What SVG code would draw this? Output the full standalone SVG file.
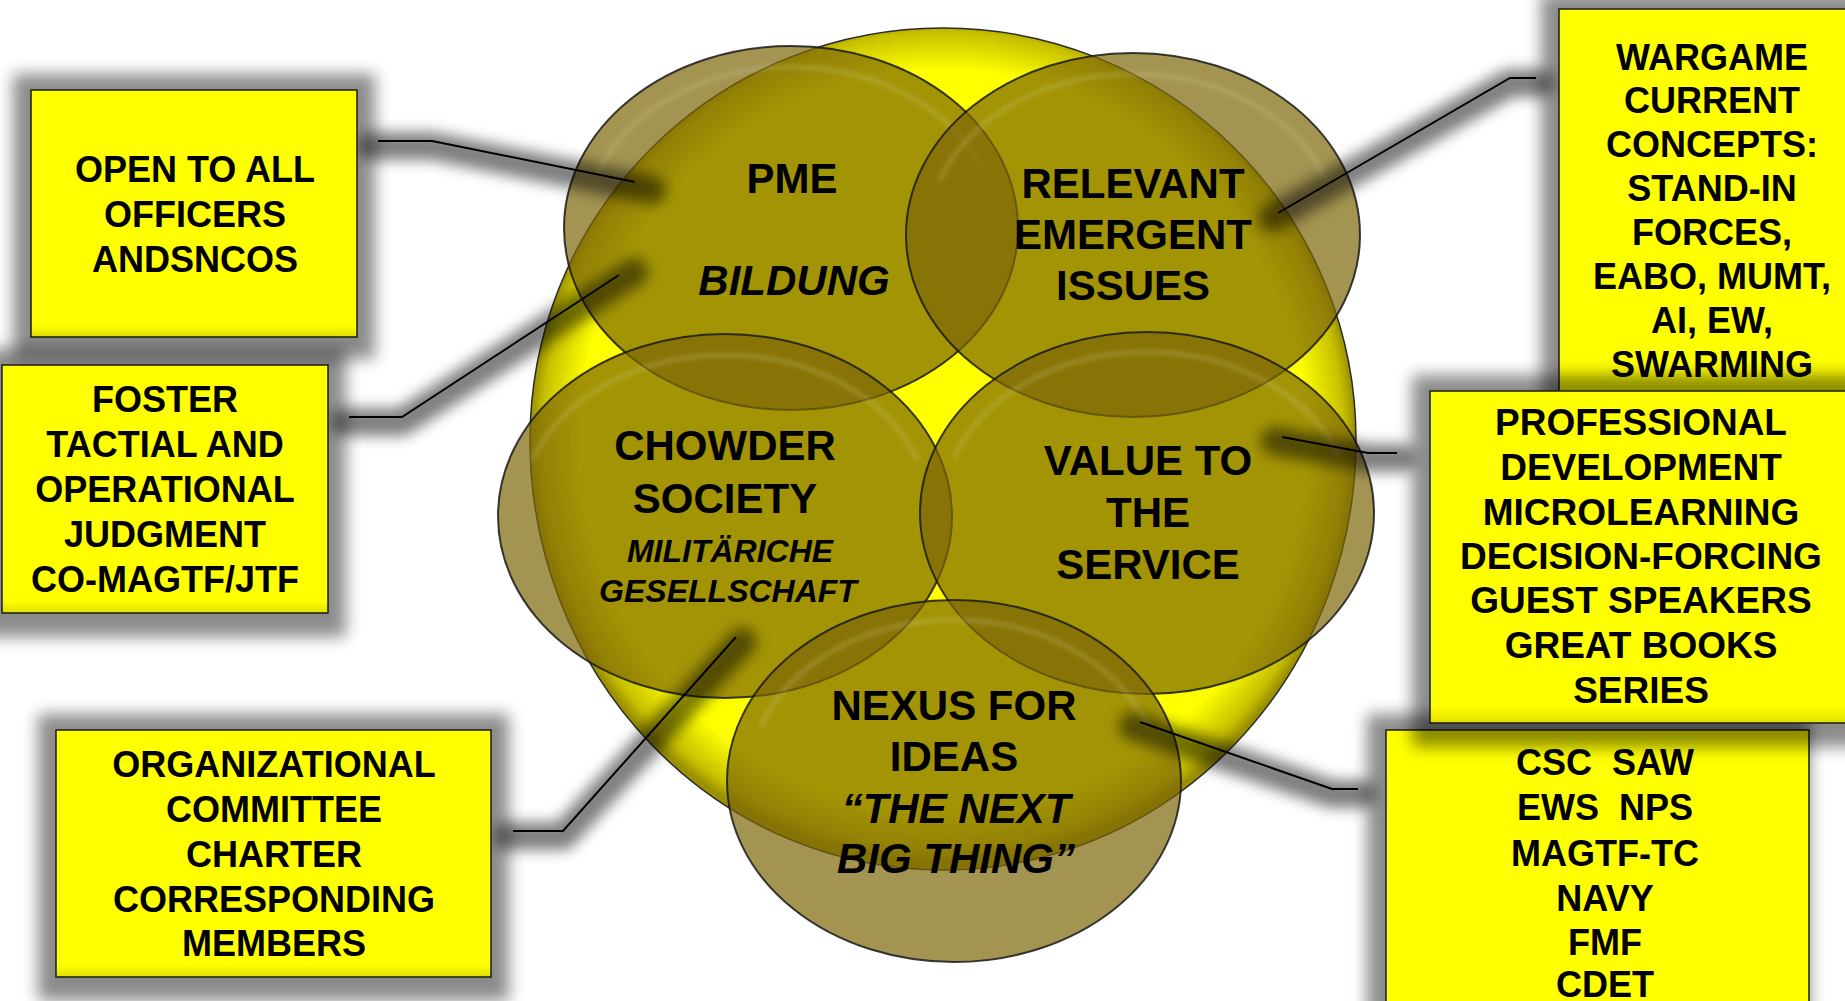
<svg xmlns="http://www.w3.org/2000/svg" width="1845" height="1001" viewBox="0 0 1845 1001">
<defs>
<style>
.bt{font-family:"Liberation Sans",Arial,sans-serif;font-weight:bold;font-size:36px;fill:#000;text-anchor:middle}
.pt{font-size:37px}
.pre{white-space:pre}
.ct{font-family:"Liberation Sans",Arial,sans-serif;font-weight:bold;font-size:42px;fill:#000;text-anchor:middle}
.it{font-style:italic}
.sm{font-size:32px}
.box{fill:url(#boxg);stroke:#1a1a1a;stroke-width:1.5}
.bsh{fill:#000;opacity:0.45;filter:url(#blur8)}
.circ{fill:rgb(124,102,7);fill-opacity:0.7;stroke:#1a1a1a;stroke-opacity:0.85;stroke-width:2}
.hl{fill:none;stroke:#d8d8a0;stroke-opacity:0.22;stroke-width:5;filter:url(#blur2)}
.conn{fill:none;stroke:#000;stroke-width:2}
.csh{fill:none;stroke:#000;stroke-opacity:0.5;stroke-width:28;stroke-linecap:round;stroke-linejoin:round;filter:url(#blur7)}
</style>
<filter id="blur8" filterUnits="userSpaceOnUse" x="-50" y="-50" width="1945" height="1101"><feGaussianBlur stdDeviation="8"/></filter>
<filter id="blur7" filterUnits="userSpaceOnUse" x="-50" y="-50" width="1945" height="1101"><feGaussianBlur stdDeviation="7"/></filter>
<filter id="blur2" filterUnits="userSpaceOnUse" x="-50" y="-50" width="1945" height="1101"><feGaussianBlur stdDeviation="2"/></filter>
<radialGradient id="eggg" cx="50%" cy="49%" r="50%">
<stop offset="0" stop-color="#ffff00"/>
<stop offset="0.88" stop-color="#ffff00"/>
<stop offset="0.97" stop-color="#c8c000"/>
<stop offset="1" stop-color="#9a9000"/>
</radialGradient>
<linearGradient id="boxg" x1="0" y1="0" x2="0" y2="1">
<stop offset="0" stop-color="#ffff00"/>
<stop offset="0.95" stop-color="#ffff00"/>
<stop offset="1" stop-color="#e0e000"/>
</linearGradient>
</defs>
<rect width="1845" height="1001" fill="#fff"/>

<g id="background-shape">
<path d="M530,440 A413,412 0 0 1 1356,440 A413,430 0 0 1 530,440 Z" fill="url(#eggg)" stroke="#2a2a2a" stroke-width="1.5"/>
</g>

<g id="node-pme">
<ellipse class="circ" cx="791" cy="228" rx="227" ry="182"/>
<path class="hl" d="M598,173 A205,160 0 0 1 984,173"/>
<text class="ct" x="792" y="193">PME</text>
<text class="ct it" x="794" y="295">BILDUNG</text>
</g>
<g id="node-relevant">
<ellipse class="circ" cx="1133" cy="235" rx="227" ry="182"/>
<path class="hl" d="M940,180 A205,160 0 0 1 1326,180"/>
<text class="ct" x="1133"><tspan x="1133" y="198">RELEVANT</tspan><tspan x="1133" y="249">EMERGENT</tspan><tspan x="1133" y="300">ISSUES</tspan></text>
</g>
<g id="node-chowder">
<ellipse class="circ" cx="725" cy="516" rx="227" ry="182"/>
<path class="hl" d="M532,461 A205,160 0 0 1 918,461"/>
<text class="ct"><tspan x="725" y="460">CHOWDER</tspan><tspan x="725" y="513">SOCIETY</tspan></text>
<text class="ct it sm"><tspan x="730" y="562">MILITÄRICHE</tspan><tspan x="728" y="602">GESELLSCHAFT</tspan></text>
</g>
<g id="node-value">
<ellipse class="circ" cx="1147" cy="513" rx="227" ry="181"/>
<path class="hl" d="M954,458 A205,160 0 0 1 1340,458"/>
<text class="ct"><tspan x="1148" y="475">VALUE TO</tspan><tspan x="1148" y="527">THE</tspan><tspan x="1148" y="579">SERVICE</tspan></text>
</g>
<g id="node-nexus">
<ellipse class="circ" cx="954" cy="781" rx="227" ry="181"/>
<path class="hl" d="M761,726 A205,160 0 0 1 1147,726"/>
<text class="ct"><tspan x="954" y="720">NEXUS FOR</tspan><tspan x="954" y="771">IDEAS</tspan></text>
<text class="ct it"><tspan x="956" y="823">“THE NEXT</tspan><tspan x="956" y="873">BIG THING”</tspan></text>
</g>

<g id="connectors">
<path class="csh" d="M372,146 L432,146 L652,190"/>
<path class="csh" d="M345,422 L402,422 L634,272"/>
<path class="csh" d="M508,836 L563,836 L742,642"/>
<path class="csh" d="M1540,83 L1510,83 L1272,218"/>
<path class="csh" d="M1402,458 L1368,458 L1275,441"/>
<path class="csh" d="M1362,794 L1332,794 L1133,726"/>
<path class="conn" d="M378,141 L432,141 L635,182"/>
<path class="conn" d="M349,417 L402,417 L619,275"/>
<path class="conn" d="M513,831 L563,831 L736,637"/>
<path class="conn" d="M1536,78 L1510,78 L1278,213"/>
<path class="conn" d="M1397,453 L1368,453 L1282,437"/>
<path class="conn" d="M1358,789 L1332,789 L1140,722"/>
</g>

<g id="box-open">
<rect class="bsh" x="13" y="74" width="362" height="285"/>
<rect class="box" x="31" y="90" width="326" height="247"/>
<text class="bt"><tspan x="195" y="182">OPEN TO ALL</tspan><tspan x="195" y="227">OFFICERS</tspan><tspan x="195" y="272">ANDSNCOS</tspan></text>
</g>
<g id="box-foster">
<rect class="bsh" x="-16" y="349" width="362" height="288"/>
<rect class="box" x="2" y="365" width="326" height="248"/>
<text class="bt"><tspan x="165" y="412">FOSTER</tspan><tspan x="165" y="457">TACTIAL AND</tspan><tspan x="165" y="502">OPERATIONAL</tspan><tspan x="165" y="547">JUDGMENT</tspan><tspan x="165" y="592">CO-MAGTF/JTF</tspan></text>
</g>
<g id="box-organizational">
<rect class="bsh" x="38" y="714" width="471" height="287"/>
<rect class="box" x="56" y="730" width="435" height="247"/>
<text class="bt"><tspan x="274" y="777">ORGANIZATIONAL</tspan><tspan x="274" y="822">COMMITTEE</tspan><tspan x="274" y="867">CHARTER</tspan><tspan x="274" y="912">CORRESPONDING</tspan><tspan x="274" y="956">MEMBERS</tspan></text>
</g>
<g id="box-wargame">
<rect class="bsh" x="1541" y="-7" width="336" height="440"/>
<rect class="box" x="1559" y="9" width="300" height="400"/>
<text class="bt"><tspan x="1712" y="69.5">WARGAME</tspan><tspan x="1712" y="113.4">CURRENT</tspan><tspan x="1712" y="157.3">CONCEPTS:</tspan><tspan x="1712" y="201.2">STAND-IN</tspan><tspan x="1712" y="245.1">FORCES,</tspan><tspan x="1712" y="289">EABO, MUMT,</tspan><tspan x="1712" y="332.9">AI, EW,</tspan><tspan x="1712" y="376.8">SWARMING</tspan></text>
</g>
<g id="box-schools">
<rect class="bsh" x="1367" y="714" width="443" height="340"/>
<rect class="box" x="1386" y="730" width="423" height="300"/>
<text class="bt pre"><tspan x="1605" y="775">CSC  SAW</tspan><tspan x="1605" y="820">EWS  NPS</tspan><tspan x="1605" y="866">MAGTF-TC</tspan><tspan x="1605" y="911">NAVY</tspan><tspan x="1605" y="955">FMF</tspan><tspan x="1605" y="997">CDET</tspan></text>
</g>
<g id="box-professional">
<rect class="bsh" x="1412" y="375" width="466" height="372"/>
<rect class="box" x="1430" y="391" width="430" height="332"/>
<text class="bt pt"><tspan x="1641" y="435">PROFESSIONAL</tspan><tspan x="1641" y="480">DEVELOPMENT</tspan><tspan x="1641" y="525">MICROLEARNING</tspan><tspan x="1641" y="569">DECISION-FORCING</tspan><tspan x="1641" y="613">GUEST SPEAKERS</tspan><tspan x="1641" y="658">GREAT BOOKS</tspan><tspan x="1641" y="703">SERIES</tspan></text>
</g>
</svg>
